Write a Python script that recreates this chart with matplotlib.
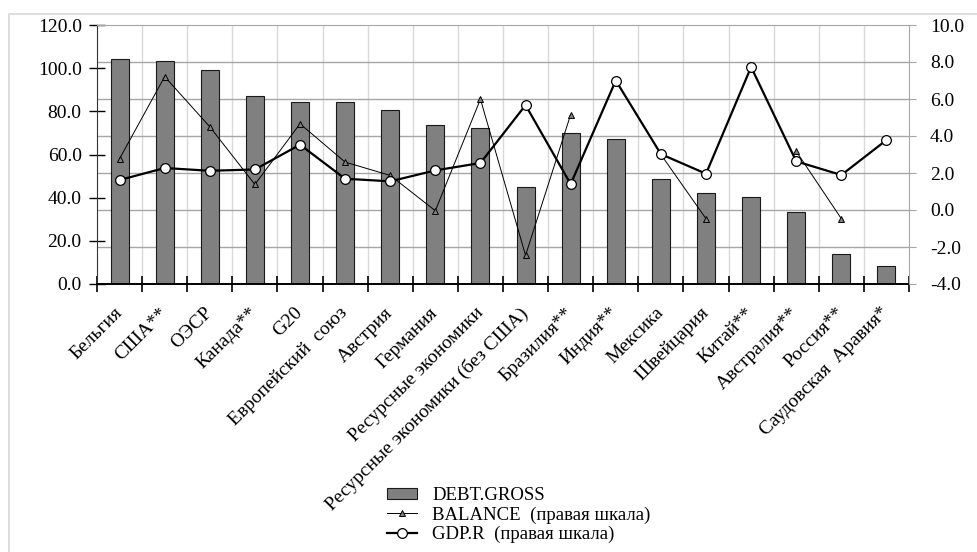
import numpy as np
import matplotlib.pyplot as plt
from matplotlib.patches import Rectangle
from matplotlib.transforms import blended_transform_factory

plt.rcParams['font.family'] = ['Liberation Serif', 'DejaVu Serif']

categories = ["Бельгия", "США**", "ОЭСР", "Канада**", "G20", "Европейский  союз",
              "Австрия", "Германия", "Ресурсные экономики",
              "Ресурсные экономики (без США)", "Бразилия**", "Индия**", "Мексика",
              "Швейцария", "Китай**", "Австралия**", "Россия**", "Саудовская  Аравия*"]

debt_gross = [104.1, 103.5, 99.1, 87.1, 84.2, 84.2, 80.8, 73.5, 72.1,
              45.1, 70.0, 67.0, 48.6, 42.3, 40.2, 33.2, 13.9, 8.3]
balance = [2.77, 7.21, 4.50, 1.38, 4.66, 2.59, 1.87, -0.04, 5.99,
           -2.45, 5.16, np.nan, 3.00, -0.47, np.nan, 3.17, -0.47, np.nan]
gdp_r = [1.62, 2.27, 2.12, 2.19, 3.53, 1.69, 1.55, 2.14, 2.54,
         5.67, 1.40, 7.00, 3.02, 1.96, 7.73, 2.63, 1.89, 3.78]

left_ticks = np.arange(0, 121, 20)
right_ticks = np.arange(-4, 10.1, 2)

fig = plt.figure(figsize=(9.77, 5.52), dpi=100)
ax = fig.add_axes([97/977, 1 - 284/552, (909-97)/977, (284-25)/552])
ax2 = ax.twinx()

x = np.arange(len(categories))
n = len(categories)

# рамка вокруг диаграммы
fig.patches.append(Rectangle((9/977, -0.05), 1.1, 1 - 14/552 + 0.05,
                             transform=fig.transFigure, fill=False,
                             edgecolor='#d9d9d9', linewidth=1.2))

# вертикальная сетка по границам категорий
for b in np.arange(0.5, n - 0.5, 1):
    ax.axvline(b, color='#d9d9d9', linewidth=1.0, zorder=0)

# горизонтальная сетка по правой шкале (под столбцами)
ax.set_ylim(0, 120)
ax2.set_ylim(-4, 10)
tr = blended_transform_factory(ax.transAxes, ax2.transData)
ax.hlines(right_ticks[1:-1], 0, 1.0, transform=tr, color='#a6a6a6',
          linewidth=1.0, zorder=0.5)

ax.bar(x, debt_gross, width=0.4, color='#808080', edgecolor='#1a1a1a',
       linewidth=0.8, zorder=2, label='DEBT.GROSS')

l1, = ax2.plot(x, balance, color='black', linewidth=0.7, marker='^',
               markersize=4.2, markerfacecolor='#808080', markeredgecolor='black',
               markeredgewidth=0.7, label='BALANCE  (правая шкала)', zorder=3)
l2, = ax2.plot(x, gdp_r, color='black', linewidth=1.6, marker='o',
               markersize=7, markerfacecolor='white', markeredgecolor='black',
               markeredgewidth=0.9, label='GDP.R  (правая шкала)', zorder=4)

ax.set_xlim(-0.5, n - 0.5)
ax2.set_xlim(-0.5, n - 0.5)

ax.set_yticks(left_ticks)
ax.set_yticklabels([f"{v:.1f}" for v in left_ticks], fontsize=14)
ax2.set_yticks(right_ticks)
ax2.set_yticklabels([f"{v:.1f}" for v in right_ticks], fontsize=14)

ax.set_xticks(x)
ax.set_xticklabels(categories, rotation=45, ha='right', va='center',
                   rotation_mode='anchor', fontsize=14)
ax.set_xticks(np.arange(-0.5, n, 1), minor=True)
ax.tick_params(axis='x', which='major', length=0, pad=19)
ax.tick_params(axis='x', which='minor', length=12, direction='inout', width=1.2)
ax.tick_params(axis='y', length=12, direction='inout', width=1.0, pad=5)
ax2.tick_params(axis='y', length=5, direction='out', color='#a6a6a6', pad=10)

for side in ['top', 'right']:
    ax.spines[side].set_visible(False)
ax2.spines['left'].set_visible(False)
ax2.spines['bottom'].set_visible(False)
ax2.spines['top'].set_color('#a6a6a6')
ax2.spines['right'].set_color('#a6a6a6')
ax.spines['left'].set_color('#333333')
ax.spines['bottom'].set_linewidth(1.4)

bars = ax.containers[0]
fig.legend([bars, l1, l2], ['DEBT.GROSS', 'BALANCE  (правая шкала)', 'GDP.R  (правая шкала)'],
           loc='upper left', bbox_to_anchor=(378/977, 1 - 478/552), frameon=False,
           fontsize=13.5, borderpad=0, handlelength=1.6, handleheight=0.55,
           handletextpad=0.8, labelspacing=0.1)

fig.savefig("out.png", dpi=100)
